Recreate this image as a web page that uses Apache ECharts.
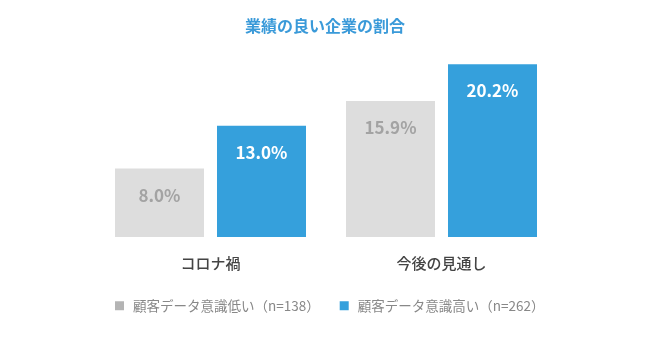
<!DOCTYPE html>
<html>
<head>
<meta charset="utf-8">
<script src="https://cdn.jsdelivr.net/npm/echarts@6/dist/echarts.min.js"></script>
<style>html,body{margin:0;padding:0;background:#fff}#c{width:650px;height:341px}</style>
</head>
<body>
<div id="c"></div>
<script>
const categories = ['コロナ禍', '今後の見通し'];
const seriesNames = ['顧客データ意識低い（n=138）', '顧客データ意識高い（n=262）'];
const lowValues = [8.0, 15.9];
const highValues = [13.0, 20.2];

const FONT = '"Noto Sans CJK JP", "Noto Sans", sans-serif';
const chart = echarts.init(document.getElementById('c'));
chart.setOption({
  backgroundColor: '#ffffff',
  animation: false,
  title: {
    text: '業績の良い企業の割合',
    left: 'center',
    top: 13,
    textStyle: { color: '#3a9ad9', fontSize: 16, fontWeight: 'bold', fontFamily: FONT }
  },
  legend: {
    left: 110,
    top: 294,
    itemWidth: 9,
    itemHeight: 9,
    itemGap: 20,
    icon: 'rect',
    textStyle: { color: '#888888', fontSize: 13.5, fontFamily: FONT, padding: [0, 0, 0, 4] },
    data: [
      { name: seriesNames[0], itemStyle: { color: '#b4b4b4' } },
      { name: seriesNames[1], itemStyle: { color: '#35a0dc' } }
    ]
  },
  grid: { left: 95, right: 93, top: 23.25, bottom: 104 },
  xAxis: {
    type: 'category',
    data: categories,
    axisLine: { show: false },
    axisTick: { show: false },
    axisLabel: { color: '#444444', fontSize: 15, margin: 19, fontWeight: 500, fontFamily: FONT }
  },
  yAxis: {
    type: 'value',
    min: 0,
    max: 25,
    show: false,
    splitLine: { show: false }
  },
  series: [
    {
      name: seriesNames[0],
      type: 'bar',
      data: lowValues,
      barWidth: 89,
      barGap: '14.6%',
      itemStyle: { color: '#dddddd' },
      label: {
        show: true, position: 'insideTop', distance: 18,
        formatter: p => p.value.toFixed(1) + '%',
        color: '#a3a3a3', fontSize: 17, fontWeight: 'bold', fontFamily: FONT
      }
    },
    {
      name: seriesNames[1],
      type: 'bar',
      data: highValues,
      barWidth: 89,
      itemStyle: { color: '#35a0dc' },
      label: {
        show: true, position: 'insideTop', distance: 18,
        formatter: p => p.value.toFixed(1) + '%',
        color: '#ffffff', fontSize: 17, fontWeight: 'bold', fontFamily: FONT
      }
    }
  ]
});
</script>
</body>
</html>
